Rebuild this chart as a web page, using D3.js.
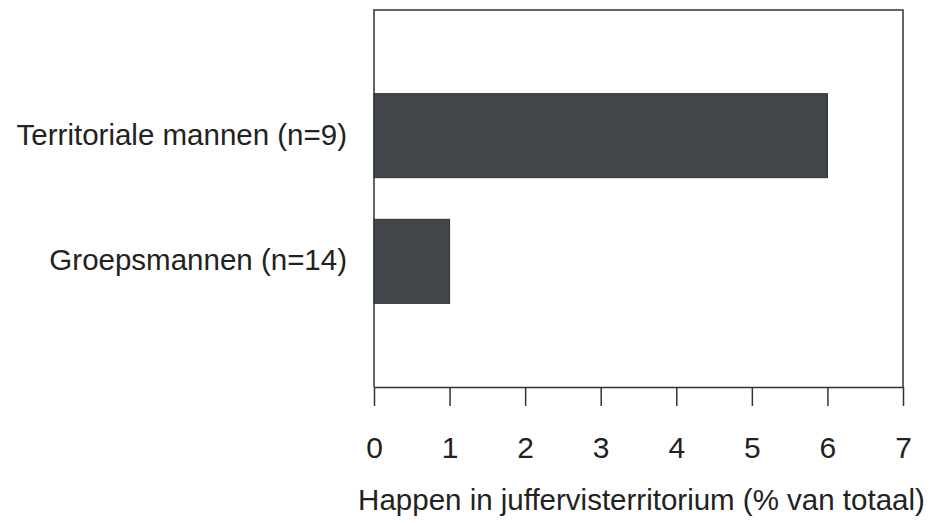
<!DOCTYPE html>
<html>
<head>
<meta charset="utf-8">
<script src="https://cdn.jsdelivr.net/npm/d3@7"></script>
<style>
  body { margin: 0; background: #fff; }
  text { font-family: "Liberation Sans", Arial, sans-serif; fill: #222; }
</style>
</head>
<body>
<div id="chart"></div>
<script>
// data
const categories = ["Territoriale mannen (n=9)", "Groepsmannen (n=14)"];
const values = [6, 1];
const xTicks = [0, 1, 2, 3, 4, 5, 6, 7];
const xTitle = "Happen in juffervisterritorium (% van totaal)";

const W = 934, H = 523;
const m = { left: 374, right: 31, top: 10, bottom: 136 };

const svg = d3.select("#chart").append("svg")
  .attr("width", W).attr("height", H);

const x = d3.scaleLinear().domain([0, 7]).range([m.left, W - m.right]);
// three equal slots, bars sit on the first two dividers
const y = d3.scalePoint().domain(categories)
  .range([m.top, H - m.bottom]).padding(1);
const barH = 84;

// bars
svg.selectAll("rect.bar")
  .data(values)
  .enter().append("rect")
  .attr("class", "bar")
  .attr("x", x(0))
  .attr("y", (d, i) => y(categories[i]) - barH / 2)
  .attr("width", d => x(d) - x(0))
  .attr("height", barH)
  .attr("fill", "#41464b")
  .attr("stroke", "#2e3236")
  .attr("stroke-width", 1);

// frame: left, top, right
svg.append("path")
  .attr("d", `M${x(0)},${H - m.bottom} V${m.top} H${x(7)} V${H - m.bottom}`)
  .attr("fill", "none")
  .attr("stroke", "#333")
  .attr("stroke-width", 1.5);

// x axis
const xAxis = svg.append("g")
  .attr("transform", `translate(0,${H - m.bottom})`)
  .call(d3.axisBottom(x).tickValues(xTicks).tickFormat(d3.format("d"))
    .tickSize(19).tickSizeOuter(0).tickPadding(0));
xAxis.select(".domain").attr("stroke", "#333").attr("stroke-width", 1.5);
xAxis.selectAll(".tick line").attr("stroke", "#333").attr("stroke-width", 1.5);
xAxis.selectAll(".tick text")
  .attr("y", 71).attr("dy", null)
  .style("font-size", "30px")
  .attr("fill", "#2a2a2a");

// category labels
svg.selectAll("text.cat")
  .data(categories)
  .enter().append("text")
  .attr("class", "cat")
  .attr("x", 347)
  .attr("y", d => y(d) + 9)
  .attr("text-anchor", "end")
  .style("font-size", "29.5px")
  .text(d => d);

// axis title
svg.append("text")
  .attr("x", (x(0) + x(7)) / 2 + 3)
  .attr("y", 510)
  .attr("text-anchor", "middle")
  .style("font-size", "29.5px")
  .text(xTitle);
</script>
</body>
</html>
